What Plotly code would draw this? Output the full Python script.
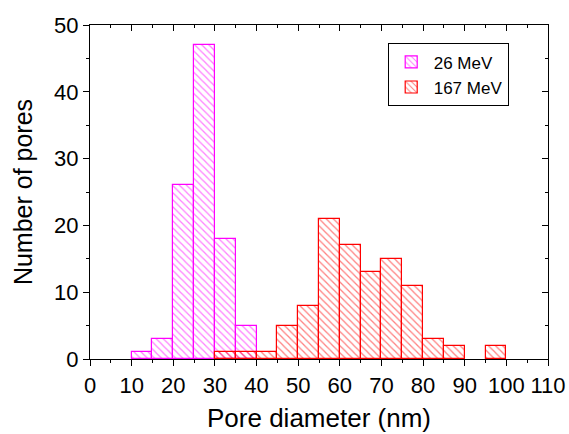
import plotly.graph_objects as go

bin_left = [10, 15, 20, 25, 30, 35, 40, 45, 50, 55, 60, 65, 70, 75, 80, 85, 90, 95]
counts_26 = [1, 3, 26, 47, 18, 5, 0, 0, 0, 0, 0, 0, 0, 0, 0, 0, 0, 0]
counts_167 = [0, 0, 0, 0, 1, 1, 1, 5, 8, 21, 17, 13, 15, 11, 3, 2, 0, 2]
bin_width = 5
x_ticks = [0, 10, 20, 30, 40, 50, 60, 70, 80, 90, 100, 110]
y_ticks = [0, 10, 20, 30, 40, 50]

centers = [b + bin_width / 2 for b in bin_left]

fig = go.Figure()
for name, vals, col in [("26 MeV", counts_26, "#FF00FF"), ("167 MeV", counts_167, "#FF0000")]:
    fig.add_trace(go.Bar(
        x=centers, y=[v if v else None for v in vals], width=bin_width, name=name,
        marker=dict(color="rgba(0,0,0,0)", line=dict(color=col, width=1.2),
                    pattern=dict(shape="\\", fgcolor=col, bgcolor="rgba(0,0,0,0)",
                                 size=5, solidity=0.25, fillmode="overlay")),
    ))
# empty trace so that the mirrored top/right axes are drawn
fig.add_trace(go.Scatter(x=[None], y=[None], xaxis="x2", yaxis="y2",
                         showlegend=False, hoverinfo="skip"))

font = "Liberation Sans, Arial, sans-serif"
axis_common = dict(showline=True, linecolor="black", linewidth=1.2, showgrid=False,
                   zeroline=False, ticklen=6, tickwidth=1, tickcolor="black", automargin=False)
fig.update_layout(
    width=569, height=434,
    margin=dict(l=90, r=21, t=25, b=75),
    plot_bgcolor="white", paper_bgcolor="white",
    barmode="overlay", bargap=0,
    font=dict(family=font, color="black"),
    showlegend=True,
    legend=dict(x=0.65, y=0.945, xanchor="left", yanchor="top",
                bordercolor="black", borderwidth=1, bgcolor="white",
                font=dict(size=17, family=font), tracegroupgap=0,
                itemwidth=35),
    xaxis=dict(range=[0, 110], tickvals=x_ticks, ticks="outside",
               minor=dict(dtick=5, ticks="outside", ticklen=3, tickcolor="black"),
               tickfont=dict(size=22), title=dict(text="Pore diameter (nm)", font=dict(size=26), standoff=12),
               **axis_common),
    yaxis=dict(range=[0, 50], tickvals=y_ticks, ticks="outside",
               minor=dict(dtick=5, ticks="outside", ticklen=3, tickcolor="black"),
               tickfont=dict(size=22), title=dict(text="Number of pores", font=dict(size=25), standoff=14),
               **axis_common),
    xaxis2=dict(range=[0, 110], overlaying="x", side="top", tickvals=x_ticks, ticks="inside",
                showticklabels=False, minor=dict(dtick=5, ticks="inside", ticklen=3, tickcolor="black"),
                **axis_common),
    yaxis2=dict(range=[0, 50], overlaying="y", side="right", tickvals=y_ticks, ticks="inside",
                showticklabels=False, minor=dict(dtick=5, ticks="inside", ticklen=3, tickcolor="black"),
                **axis_common),
)
fig.write_html("out.html", config={"displayModeBar": False},
               post_script="document.body.style.margin='0';document.body.style.overflow='hidden';")
